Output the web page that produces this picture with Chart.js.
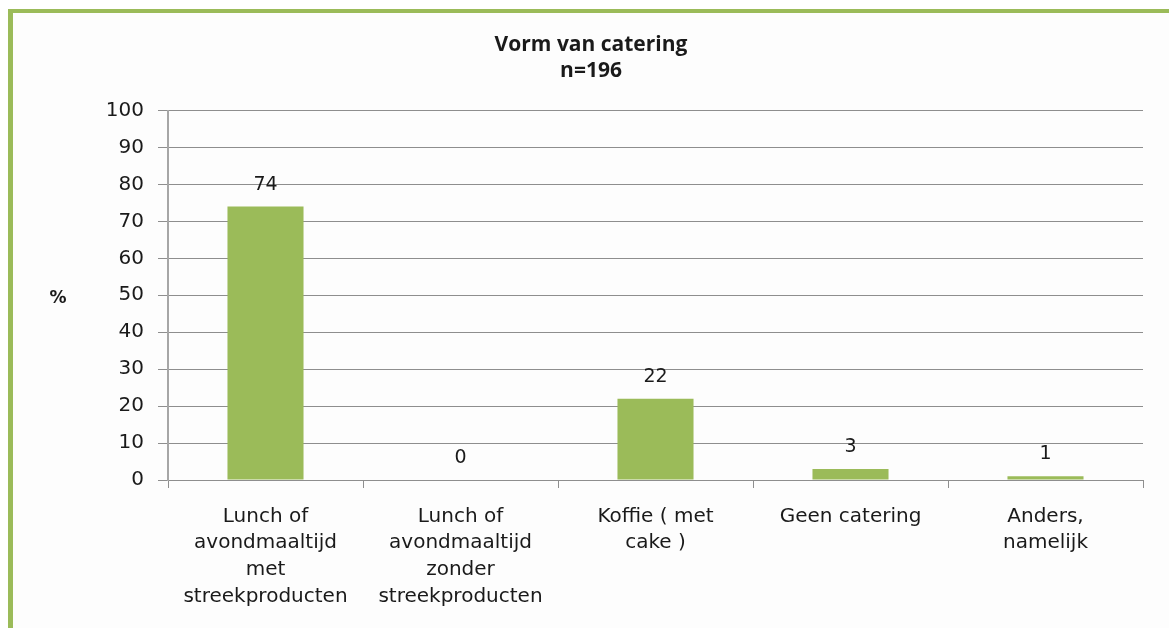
<!DOCTYPE html>
<html>
<head>
<meta charset="utf-8">
<script src="https://cdn.jsdelivr.net/npm/chart.js@4/dist/chart.umd.min.js"></script>
<style>
  html, body { margin: 0; padding: 0; background: #ffffff; }
  #frame {
    position: absolute; left: 8px; top: 9px; width: 1161px; height: 619px;
    border-left: 5px solid #9bbb59; border-top: 4px solid #9bbb59;
    background: #fdfdfd;
  }
  #catering { position: absolute; left: 0; top: 0; }
</style>
</head>
<body>
<div id="frame">
  <canvas id="catering" width="1156" height="615"></canvas>
</div>
<script>
// categories and values (percentages)
var categories = [
        ['Lunch of', 'avondmaaltijd', 'met', 'streekproducten'],
        ['Lunch of', 'avondmaaltijd', 'zonder', 'streekproducten'],
        ['Koffie ( met', 'cake )'],
        ['Geen catering'],
        ['Anders,', 'namelijk']
];
var percentages = [74, 0, 22, 3, 1];
var yTicks = [0, 10, 20, 30, 40, 50, 60, 70, 80, 90, 100];

var barGreen = '#9bbb59';
var gridGrey = '#8e8e8e';
var textColor = '#1a1a1a';

// value labels above the bars
var valueLabels = {
        id: 'valueLabels',
        afterDatasetsDraw: function (chart) {
                var ctx = chart.ctx;
                var meta = chart.getDatasetMeta(0);
                ctx.save();
                ctx.font = '19px "DejaVu Sans"';
                ctx.fillStyle = textColor;
                ctx.textAlign = 'center';
                ctx.textBaseline = 'middle';
                meta.data.forEach(function (bar, i) {
                        ctx.fillText(percentages[i], bar.x, bar.y - 22);
                });
                ctx.restore();
        }
};

// upright "%" axis title
var percentTitle = {
        id: 'percentTitle',
        afterDraw: function (chart) {
                var ctx = chart.ctx;
                var area = chart.chartArea;
                ctx.save();
                ctx.font = 'bold 17px "DejaVu Sans"';
                ctx.fillStyle = textColor;
                ctx.textAlign = 'center';
                ctx.textBaseline = 'middle';
                ctx.fillText('%', 45, (area.top + area.bottom) / 2 + 3);
                ctx.restore();
        }
};

var ctx = document.getElementById('catering').getContext('2d');
var cateringChart = new Chart(ctx, {
        type: 'bar',
        data: {
                labels: categories,
                datasets: [{
                        data: percentages,
                        backgroundColor: barGreen,
                        barPercentage: 0.39,
                        categoryPercentage: 1.0
                }]
        },
        options: {
                responsive: false,
                animation: false,
                layout: { padding: 0 },
                plugins: {
                        legend: { display: false },
                        tooltip: { enabled: false },
                        title: {
                                display: true,
                                text: ['Vorm van catering', 'n=196'],
                                color: textColor,
                                font: { family: '"Open Sans"', size: 21, weight: 'bold', lineHeight: 1.25 },
                                padding: { top: 19, bottom: 26 }
                        }
                },
                scales: {
                        x: {
                                grid: {
                                        offset: true,
                                        drawOnChartArea: false,
                                        drawTicks: true,
                                        tickLength: 8,
                                        color: gridGrey
                                },
                                border: { color: gridGrey, width: 1 },
                                ticks: {
                                        color: textColor,
                                        font: { family: '"DejaVu Sans"', size: 20, lineHeight: 1.34 },
                                        padding: 15,
                                        maxRotation: 0,
                                        autoSkip: false
                                },
                                afterFit: function (scale) { scale.height = 148; }
                        },
                        y: {
                                min: 0,
                                max: 100,
                                afterBuildTicks: function (scale) {
                                        scale.ticks = yTicks.map(function (v) { return { value: v }; });
                                },
                                grid: {
                                        color: gridGrey,
                                        tickLength: 10
                                },
                                border: { color: '#a6a6a6', width: 2 },
                                ticks: {
                                        color: textColor,
                                        font: { family: '"DejaVu Sans"', size: 20 },
                                        padding: 14
                                },
                                afterFit: function (scale) { scale.width = 155; }
                        },
                        // empty right margin so the title centres on the whole frame
                        yRight: {
                                position: 'right',
                                min: 0,
                                max: 100,
                                grid: { display: false },
                                border: { display: false },
                                ticks: { display: false },
                                afterFit: function (scale) { scale.width = 26; }
                        }
                }
        },
        plugins: [valueLabels, percentTitle]
});
</script>
</body>
</html>
